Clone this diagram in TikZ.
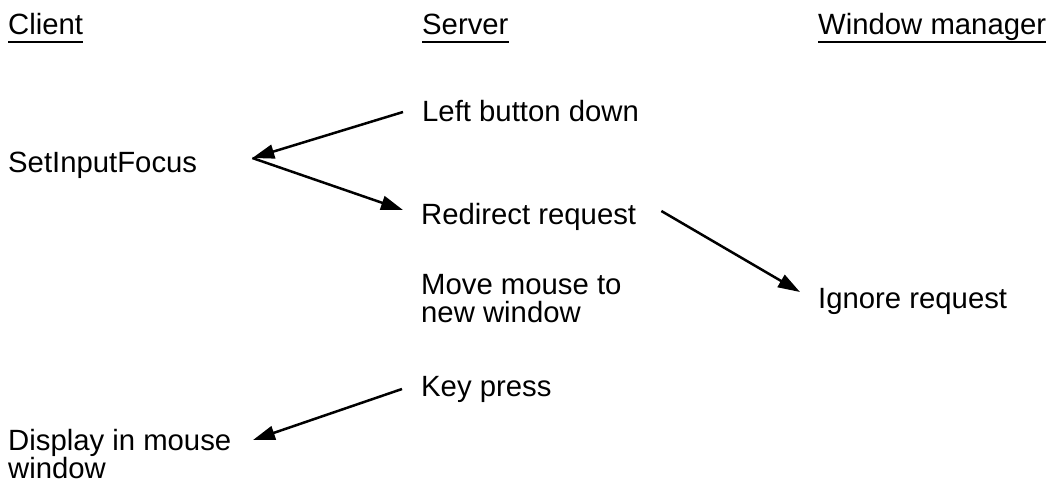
\documentclass[tikz,border=0pt]{standalone}
\usepackage{fontspec}
\setmainfont{Liberation Sans}
\usetikzlibrary{arrows.meta}
\tikzstyle{mytext} = [inner sep=0pt, anchor=base west, font=\fontsize{29.3}{28}\selectfont]
\tikzstyle{mymulti} = [mytext, anchor=north west, align=left]
\tikzstyle{myline} = [line width=2.5pt]
\tikzstyle{myarrow} = [line width=2.5pt, -{Triangle[length=22pt,width=14pt]}]

\begin{document}
\begin{tikzpicture}[x=1pt,y=-1pt]
\useasboundingbox (0,0) rectangle (1053,483);
% column headers
\node[mytext] (cli) at (8,34) {Client};
\node[mytext] (srv) at (422,34) {Server};
\node[mytext] (wm) at (818,34) {Window manager};
\draw[myline] ([yshift=-8pt]cli.base west) -- ([yshift=-8pt]cli.base east);
\draw[myline] ([yshift=-8pt]srv.base west) -- ([yshift=-8pt]srv.base east);
\draw[myline] ([yshift=-8pt]wm.base west) -- ([yshift=-8pt]wm.base east);

% events
\node[mytext] (lbd) at (422,121) {Left button down};
\node[mytext] (sif) at (8,172) {SetInputFocus};
\node[mytext] (rdr) at (421,224) {Redirect request};
\node[mymulti] (mmw) at (421,274) {Move mouse to\\new window};
\node[mytext] (ign) at (818,308) {Ignore request};
\node[mytext] (key) at (421,396) {Key press};
\node[mymulti] (dsp) at (8,429) {Display in mouse\\window};

\draw[myarrow] ([shift={(-19,-9)}]lbd.base west) -- ([shift={(55,-14)}]sif.base east);
\draw[myarrow] ([shift={(55,-14)}]sif.base east) -- ([shift={(-18,-14)}]rdr.base west);
\draw[myarrow] ([shift={(25,-13)}]rdr.base east) -- ([shift={(-18,-16)}]ign.base west);
\draw[myarrow] ([shift={(-19,-7)}]key.base west) -- ([shift={(245,11)}]dsp.north west);
\end{tikzpicture}
\end{document}
